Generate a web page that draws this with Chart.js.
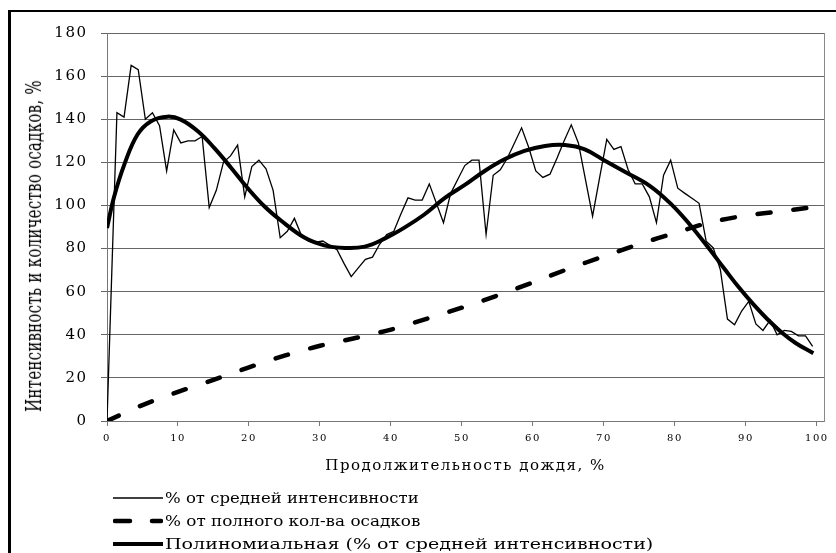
<!DOCTYPE html>
<html>
<head>
<meta charset="utf-8">
<script src="https://cdn.jsdelivr.net/npm/chart.js@4.4.1/dist/chart.umd.min.js"></script>
<style>
  html, body { margin: 0; padding: 0; background: #fff; overflow: hidden; }
  #wrap { position: relative; width: 836px; height: 553px; }
  #frame { position: absolute; left: 8px; top: 10px; width: 900px; height: 600px;
           border-left: 3px solid #000; border-top: 2px solid #000; }
  #chart { position: absolute; left: 0; top: 0; }
  #ytitle { position: absolute; left: 33.5px; top: 246px; white-space: nowrap;
            font: 15px "DejaVu Serif"; letter-spacing: 0.25px; color: #000;
            transform: translate(-50%, -50%) rotate(-90deg) scaleY(1.45); }
  #legend { position: absolute; left: 113px; top: 486px; font: 15px "DejaVu Serif"; color: #000; }
  .row { height: 23px; display: flex; align-items: center; white-space: nowrap; }
  .row svg { width: 50px; height: 10px; margin-right: 2px; flex: none; }
  .row span { display: inline-block; transform-origin: 0 50%; }
</style>
</head>
<body>
<div id="wrap">
  <div id="frame"></div>
  <canvas id="chart" width="836" height="553"></canvas>
  <div id="ytitle"></div>
  <div id="legend"></div>
</div>
<script>
// продолжительность дождя, % (ось X) для ряда интенсивности
const durationPct = [
  0, 1.4, 2.4, 3.4, 4.4, 5.4, 6.4, 7.4, 8.4, 9.4,
  10.4, 11.4, 12.4, 13.4, 14.4, 15.4, 16.4, 17.4, 18.4, 19.4,
  20.4, 21.4, 22.4, 23.4, 24.4, 25.4, 26.4, 27.4, 28.4, 29.4,
  30.4, 31.4, 32.4, 33.4, 34.4, 35.4, 36.4, 37.4, 38.4, 39.4,
  40.4, 41.4, 42.4, 43.4, 44.4, 45.4, 46.4, 47.4, 48.4, 49.4,
  50.4, 51.4, 52.4, 53.4, 54.4, 55.4, 56.4, 57.4, 58.4, 59.4,
  60.4, 61.4, 62.4, 63.4, 64.4, 65.4, 66.4, 67.4, 68.4, 69.4,
  70.4, 71.4, 72.4, 73.4, 74.4, 75.4, 76.4, 77.4, 78.4, 79.4,
  80.4, 81.4, 82.4, 83.4, 84.4, 85.4, 86.4, 87.4, 88.4, 89.4,
  90.4, 91.4, 92.4, 93.4, 94.4, 95.4, 96.4, 97.4, 98.4, 99.4
];
// % от средней интенсивности
const intensityPct = [
  0, 143, 141, 165, 163, 140, 143, 137, 116, 135,
  129, 130, 130, 132, 99, 107, 120, 123, 128, 104,
  118, 121, 117, 107, 85, 88, 94, 86, 83.5, 83,
  83.5, 81.5, 79.5, 73, 67, 71, 75, 76, 82, 86.5,
  88, 96, 103.5, 102.5, 102.5, 110, 101, 92, 105.5, 112,
  118.5, 121, 121, 86.5, 114, 116.5, 122, 129, 136, 127,
  116, 113, 114.5, 122, 130, 137.4, 129, 112, 95, 113,
  130.7, 126, 127.3, 116.7, 110, 110, 104, 92, 114, 121,
  108, 105.6, 103.3, 101, 83.4, 80.3, 70.2, 47.3, 44.7, 51,
  55.5, 45, 42, 46.7, 40, 42, 41.6, 39.5, 39.5, 34.6
];
// % от полного количества осадков (нарастающим итогом)
const cumDurationPct = [0, 5, 10, 15, 20, 25, 30, 35, 40, 45, 50, 55, 60, 65, 70, 75, 80, 85, 90, 95, 100];
const cumulativePct = [0, 7.4, 13.5, 19.1, 24.9, 30.3, 34.9, 38.5, 42.4, 47.4, 52.6, 58.2, 64.3, 70.6, 76.4, 82.1, 87.2, 92.2, 95.3, 97.3, 99.5];
// полиномиальная линия тренда
const trendDurationPct = [0, 1, 2.5, 4.3, 6.2, 8.5, 10.4, 12.8, 15.1, 17.5, 19.8, 22.2, 24.5, 27.8, 30.6, 33.5, 36.3, 39.1, 41.9, 44.7,
  47.6, 50.4, 53.2, 56, 58.8, 61.7, 64.5, 67.3, 70.2, 73, 76.5, 79.5, 82, 84.8, 87, 89, 91, 93, 95, 97, 99.5];
const trendPct = [89.5, 104, 119.5, 132.9, 139.1, 141.2, 139.8, 134.4, 126.7, 117.4, 108.1, 99.5, 93, 85.1, 81.5, 80.3, 80.9, 84.6, 89.7, 95.8,
  103.5, 109.5, 116, 121.4, 125.3, 127.6, 128, 126, 120.6, 115.5, 109, 100.5, 91.5, 80, 70.5, 62, 54.3, 47.3, 41.2, 36.2, 31.4];

const xTicks = [0, 10, 20, 30, 40, 50, 60, 70, 80, 90, 100];
const yTicks = [0, 20, 40, 60, 80, 100, 120, 140, 160, 180];

const labels = [
  '% от средней интенсивности',
  '% от полного кол-ва осадков',
  'Полиномиальная (% от средней интенсивности)'
];
const yTitle = 'Интенсивность и количество осадков, %';
const xTitle = 'Продолжительность дождя, %';

const font = { family: 'DejaVu Serif', size: 15 };
const smallFont = { family: 'DejaVu Serif', size: 10 };
const toPoints = (xs, ys) => xs.map((x, i) => ({ x: x, y: ys[i] }));

// буквы в оригинале растянуты по ширине
const spacing = {
  id: 'spacing',
  beforeUpdate: c => { c.ctx.letterSpacing = '1.5px'; },
  beforeDraw: c => { c.ctx.letterSpacing = '1.5px'; }
};

const chart = new Chart(document.getElementById('chart'), {
  type: 'line',
  data: {
    datasets: [
      {
        label: labels[0],
        data: toPoints(durationPct, intensityPct),
        borderColor: '#000',
        borderWidth: 1.3,
        pointRadius: 0,
        tension: 0
      },
      {
        label: labels[1],
        data: toPoints(cumDurationPct, cumulativePct),
        borderColor: '#000',
        borderWidth: 4.5,
        borderDash: [13, 23],
        borderCapStyle: 'round',
        pointRadius: 0,
        tension: 0.3
      },
      {
        label: labels[2],
        data: toPoints(trendDurationPct, trendPct),
        borderColor: '#000',
        borderWidth: 4,
        pointRadius: 0,
        tension: 0.4
      }
    ]
  },
  plugins: [spacing],
  options: {
    responsive: false,
    animation: false,
    layout: { padding: { left: 10, top: 33, right: 12, bottom: 72 } },
    plugins: { legend: { display: false }, tooltip: { enabled: false } },
    scales: {
      x: {
        type: 'linear',
        min: 0,
        max: 101,
        afterBuildTicks: s => { s.ticks = xTicks.map(v => ({ value: v })); },
        afterFit: s => { s.height = 60; },
        grid: { drawOnChartArea: false, tickLength: 5, color: '#777' },
        border: { color: '#777' },
        ticks: { font: smallFont, color: '#000', padding: 6, maxRotation: 0, autoSkip: false },
        title: { display: true, text: xTitle, font: font, color: '#000', padding: { top: 0, bottom: 6 } }
      },
      y: {
        min: 0,
        max: 180,
        afterBuildTicks: s => { s.ticks = yTicks.map(v => ({ value: v })); },
        afterFit: s => { s.width = 97; },
        grid: { color: '#666', tickLength: 6 },
        border: { color: '#777' },
        ticks: { font: font, color: '#000', padding: 13.5 }
      },
      y2: {
        position: 'right',
        grid: { drawOnChartArea: false, drawTicks: false },
        ticks: { display: false },
        border: { color: '#888' },
        afterFit: s => { s.width = 0; }
      }
    }
  }
});

document.getElementById('ytitle').textContent = yTitle;

// легенда под графиком, по одному элементу в строке
const samples = [
  '<line x1="0" y1="5" x2="50" y2="5" stroke="#000" stroke-width="1.3"/>',
  '<line x1="2" y1="5" x2="48" y2="5" stroke="#000" stroke-width="4.5" stroke-linecap="round" stroke-dasharray="15 22"/>',
  '<line x1="0" y1="5" x2="50" y2="5" stroke="#000" stroke-width="4"/>'
];
const rowStretch = [1.1, 1.12, 1.27];
document.getElementById('legend').innerHTML = chart.data.datasets.map((d, i) =>
  '<div class="row"><svg viewBox="0 0 50 10">' + samples[i] + '</svg><span style="transform:scaleX(' +
  rowStretch[i] + ')">' + d.label + '</span></div>'
).join('');
</script>
</body>
</html>
